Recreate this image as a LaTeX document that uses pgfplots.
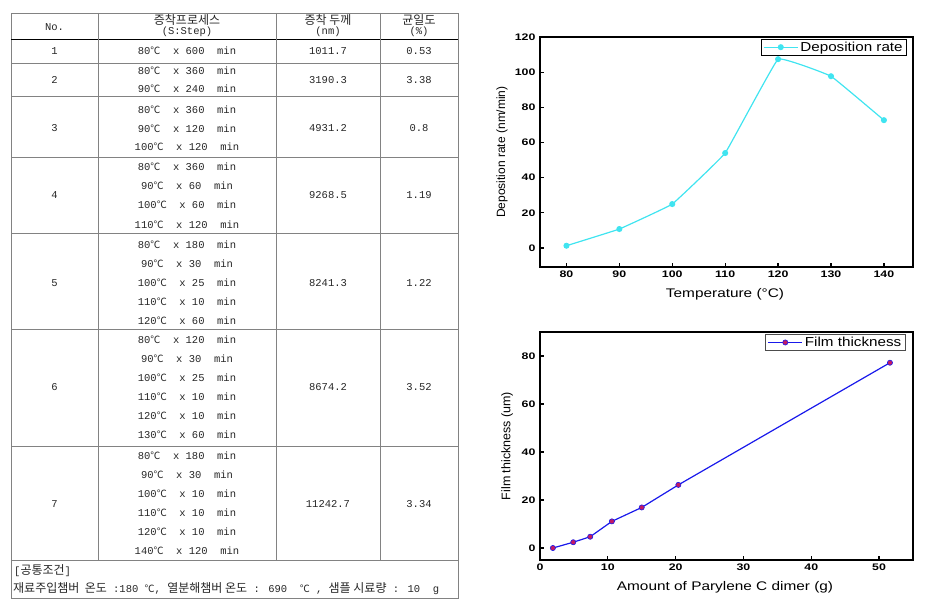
\documentclass[border=0pt]{standalone}
\usepackage{fontspec}
\setmainfont{Liberation Sans}
\newfontfamily\cjk{Noto Sans CJK KR}
\newfontfamily\tm{Liberation Mono}
\usepackage{graphicx}
\usepackage{pgfplots}
\pgfplotsset{compat=1.18}

\definecolor{cyanline}{RGB}{64,228,240}
\definecolor{blueline}{RGB}{25,25,235}
\definecolor{dotfill}{RGB}{195,25,100}
\definecolor{rulegray}{RGB}{130,130,130}
\newcommand{\dc}{{\cjk\fontsize{10}{12}\selectfont ℃}}
\newcommand{\kr}[1]{{\cjk\fontsize{12}{14}\selectfont #1}}

\pgfplotsset{
  chartstyle/.style={
    scale only axis,
    tick align=inside, xtick pos=bottom, ytick pos=left,
    major tick length=4pt,
    axis line style={line width=1.4pt},
    every tick/.style={black, line width=1.2pt},
    tick label style={font=\fontsize{9.5}{11}\selectfont\bfseries, xscale=1.3},
    /pgf/number format/assume math mode=true,
    xlabel style={at={(axis description cs:0.496,-0.12)}, anchor=center,
      font=\fontsize{12.5}{14}\selectfont, xscale=1.23},
    ylabel style={anchor=center, font=\fontsize{12}{14}\selectfont},
    legend cell align=left,
    legend image code/.code={
      \draw[mark repeat=2,mark phase=2,##1] plot coordinates {(0pt,0pt) (17pt,0pt) (34pt,0pt)};},
  },
}

\begin{document}
\begin{tikzpicture}
\path[use as bounding box] (0pt,0pt) rectangle (932pt,-602pt);

% ---- table ----
\begin{scope}[x=1pt,y=-1pt, tt/.style={font=\tm\fontsize{10.5}{12}\selectfont, text=black!85, inner sep=0pt}]
  \draw[rulegray, line width=0.9pt] (11,13) rectangle (458,598);
  \foreach \yy in {63,96,157,233,329,446,560}
    \draw[rulegray, line width=0.7pt] (11,\yy) -- (458,\yy);
  \draw[black, line width=0.9pt] (11,39) -- (458,39);
  \foreach \xx in {98,276,380}
    \draw[rulegray, line width=0.7pt] (\xx,13) -- (\xx,560);

  % header
  \node[tt] at (54.5,27) {No.};
  \node[tt] at (187,20) {\kr{증착프로세스}};
  \node[tt] at (187,32) {(S:Step)};
  \node[tt] at (328,20) {\kr{증착 두께}};
  \node[tt] at (328,32) {(nm)};
  \node[tt] at (419,20) {\kr{균일도}};
  \node[tt] at (419,32) {(\%)};

  % row 1
  \node[tt] at (54.5,51) {1};
  \node[tt] at (187,51) {80\dc\ \ x 600\ \ min};
  \node[tt] at (328,51) {1011.7};
  \node[tt] at (419,51) {0.53};
  % row 2
  \node[tt] at (54.5,80) {2};
  \node[tt] at (187,71) {80\dc\ \ x 360\ \ min};
  \node[tt] at (187,88.5) {90\dc\ \ x 240\ \ min};
  \node[tt] at (328,80) {3190.3};
  \node[tt] at (419,80) {3.38};
  % row 3
  \node[tt] at (54.5,128) {3};
  \node[tt] at (187,110) {80\dc\ \ x 360\ \ min};
  \node[tt] at (187,129) {90\dc\ \ x 120\ \ min};
  \node[tt] at (187,147) {100\dc\ \ x 120\ \ min};
  \node[tt] at (328,128) {4931.2};
  \node[tt] at (419,128) {0.8};
  % row 4
  \node[tt] at (54.5,195) {4};
  \node[tt] at (187,167) {80\dc\ \ x 360\ \ min};
  \node[tt] at (187,186) {90\dc\ \ x 60\ \ min};
  \node[tt] at (187,205) {100\dc\ \ x 60\ \ min};
  \node[tt] at (187,225) {110\dc\ \ x 120\ \ min};
  \node[tt] at (328,195) {9268.5};
  \node[tt] at (419,195) {1.19};
  % row 5
  \node[tt] at (54.5,283) {5};
  \node[tt] at (187,245) {80\dc\ \ x 180\ \ min};
  \node[tt] at (187,264) {90\dc\ \ x 30\ \ min};
  \node[tt] at (187,283) {100\dc\ \ x 25\ \ min};
  \node[tt] at (187,302) {110\dc\ \ x 10\ \ min};
  \node[tt] at (187,321) {120\dc\ \ x 60\ \ min};
  \node[tt] at (328,283) {8241.3};
  \node[tt] at (419,283) {1.22};
  % row 6
  \node[tt] at (54.5,387) {6};
  \node[tt] at (187,340) {80\dc\ \ x 120\ \ min};
  \node[tt] at (187,359) {90\dc\ \ x 30\ \ min};
  \node[tt] at (187,378) {100\dc\ \ x 25\ \ min};
  \node[tt] at (187,397) {110\dc\ \ x 10\ \ min};
  \node[tt] at (187,416) {120\dc\ \ x 10\ \ min};
  \node[tt] at (187,435) {130\dc\ \ x 60\ \ min};
  \node[tt] at (328,387) {8674.2};
  \node[tt] at (419,387) {3.52};
  % row 7
  \node[tt] at (54.5,504) {7};
  \node[tt] at (187,456) {80\dc\ \ x 180\ \ min};
  \node[tt] at (187,475) {90\dc\ \ x 30\ \ min};
  \node[tt] at (187,494) {100\dc\ \ x 10\ \ min};
  \node[tt] at (187,513) {110\dc\ \ x 10\ \ min};
  \node[tt] at (187,532) {120\dc\ \ x 10\ \ min};
  \node[tt] at (187,551) {140\dc\ \ x 120\ \ min};
  \node[tt] at (328,504) {11242.7};
  \node[tt] at (419,504) {3.34};

  % footer
  \node[tt, anchor=west] at (14,571) {[\kr{공통조건}]};
  \node[tt, anchor=west] at (13,589) {\kr{재료주입챔버\ \ 온도} :180 \dc, \kr{열분해챔버\ 온도} : 690\ \ \dc\ , \kr{샘플\ 시료량} : 10\ \ g};
\end{scope}

% ---- deposition rate vs temperature ----
\begin{axis}[
  chartstyle,
  at={(540pt,-267pt)}, anchor=south west,
  width=373pt, height=230pt,
  xmin=75, xmax=145.5, ymin=-10.8, ymax=120,
  xtick={80,90,100,110,120,130,140},
  ytick={0,20,40,60,80,100,120},
  xlabel={Temperature (°C)},
  ylabel={Deposition rate (nm/min)},
  ylabel style={at={(axis description cs:-0.102,0.5)}},
  legend style={at={(axis description cs:0.984,0.991)}, anchor=north east,
    font=\fontsize{13}{15}\selectfont, draw=black, line width=0.7pt,
    inner xsep=2pt, inner ysep=0.3pt},
]
\addplot[cyanline, line width=1.2pt, smooth, tension=0.12,
  mark=*, mark size=2.4pt, mark options={fill=cyanline, draw=cyanline}]
  coordinates {(80,1.3) (90,10.8) (100,25) (110,54) (120,107.4) (130,97.7) (140,72.7)};
\addlegendentry{\scalebox{1.17}[1]{Deposition rate}}
\end{axis}

% ---- film thickness vs dimer amount ----
\begin{axis}[
  chartstyle,
  at={(540pt,-560pt)}, anchor=south west,
  width=373pt, height=228pt,
  xmin=0, xmax=55, ymin=-5, ymax=90,
  xtick={0,10,20,30,40,50},
  ytick={0,20,40,60,80},
  xlabel={Amount of Parylene C dimer (g)},
  ylabel={Film thickness (um)},
  ylabel style={at={(axis description cs:-0.088,0.5)}, font=\fontsize{12.5}{14}\selectfont},
  legend style={at={(axis description cs:0.981,0.991)}, anchor=north east,
    font=\fontsize{13}{15}\selectfont, draw=black!70, line width=1.3pt,
    inner xsep=2pt, inner ysep=0.3pt},
]
\addplot[blueline, line width=1.2pt,
  mark=*, mark size=2.6pt, mark options={fill=dotfill, draw=blueline, line width=0.6pt}]
  coordinates {(1.9,0) (4.9,2.4) (7.4,4.7) (10.6,11.1) (15.0,16.9) (20.4,26.3) (51.6,77.2)};
\addlegendentry{\scalebox{1.17}[1]{Film thickness}}
\end{axis}
\end{tikzpicture}
\end{document}
